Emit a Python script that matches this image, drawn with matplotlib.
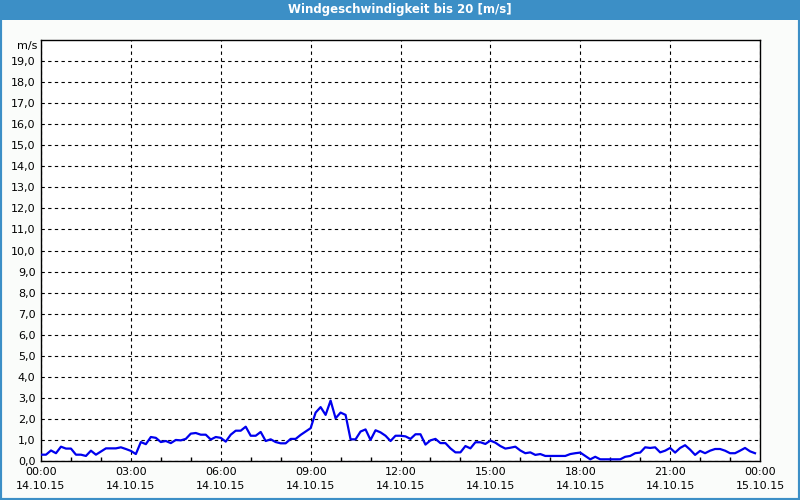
import numpy as np
import matplotlib.pyplot as plt
from matplotlib.patches import Rectangle

# Windgeschwindigkeit, 10-Minuten-Werte 14.10.15 00:00 .. 23:50
speed = [
    0.30, 0.30, 0.50, 0.37, 0.68, 0.59, 0.59, 0.30, 0.30, 0.24, 0.49, 0.30,
    0.45, 0.60, 0.60, 0.60, 0.65, 0.57, 0.48, 0.33, 0.90, 0.80, 1.14, 1.10,
    0.90, 0.95, 0.85, 1.00, 0.98, 1.05, 1.30, 1.33, 1.25, 1.25, 1.02, 1.14,
    1.10, 0.92, 1.25, 1.44, 1.44, 1.63, 1.20, 1.20, 1.38, 0.95, 1.03, 0.90,
    0.84, 0.84, 1.05, 1.05, 1.24, 1.40, 1.56, 2.30, 2.56, 2.19, 2.87, 2.03,
    2.30, 2.19, 1.03, 1.03, 1.40, 1.50, 1.00, 1.46, 1.36, 1.20, 0.95, 1.20,
    1.20, 1.17, 1.05, 1.27, 1.27, 0.78, 0.98, 1.05, 0.85, 0.85, 0.60, 0.41,
    0.41, 0.71, 0.60, 0.89, 0.89, 0.81, 0.97, 0.87, 0.71, 0.59, 0.63, 0.68,
    0.50, 0.37, 0.41, 0.29, 0.33, 0.24, 0.24, 0.24, 0.24, 0.24, 0.33, 0.37,
    0.40, 0.24, 0.08, 0.20, 0.08, 0.08, 0.08, 0.08, 0.08, 0.20, 0.24, 0.37,
    0.40, 0.65, 0.62, 0.65, 0.41, 0.49, 0.62, 0.40, 0.62, 0.75, 0.54, 0.29,
    0.48, 0.37, 0.49, 0.57, 0.57, 0.49, 0.37, 0.37, 0.49, 0.62, 0.46, 0.37,
]
hours = np.arange(len(speed)) / 6.0

x_ticks = [0, 3, 6, 9, 12, 15, 18, 21, 24]
x_labels = ["00:00\n14.10.15", "03:00\n14.10.15", "06:00\n14.10.15",
            "09:00\n14.10.15", "12:00\n14.10.15", "15:00\n14.10.15",
            "18:00\n14.10.15", "21:00\n14.10.15", "00:00\n15.10.15"]
y_ticks = list(range(0, 20))
y_labels = ["%d,0" % v for v in y_ticks]

title = "Windgeschwindigkeit bis 20 [m/s]"
blue_bar = "#3c8fc6"
bg = "#fafcfa"

fig = plt.figure(figsize=(8, 5), dpi=100, facecolor=bg)

# Rahmen und Titelleiste
fig.patches.append(Rectangle((0, 0), 1, 1, transform=fig.transFigure,
                             fill=False, edgecolor=blue_bar, linewidth=3))
fig.patches.append(Rectangle((0, 0.96), 1, 0.04, transform=fig.transFigure,
                             facecolor=blue_bar, edgecolor="none"))
fig.text(0.5, 0.98, title, color="white", fontsize=8.5, fontweight="bold",
         ha="center", va="center")

ax = fig.add_axes([41 / 800, 39 / 500, 719 / 800, 421 / 500])
ax.set_facecolor("white")
ax.plot(hours, speed, color="#0000ee", linewidth=1.6, zorder=3)

ax.set_xlim(0, 24)
ax.set_ylim(0, 20)
ax.set_xticks(x_ticks)
ax.set_xticklabels(x_labels, fontsize=8, linespacing=1.6)
ax.set_xticks(np.arange(0, 25, 1), minor=True)
ax.set_yticks(y_ticks)
ax.set_yticklabels(y_labels, fontsize=8)

ax.tick_params(axis="both", which="major", length=0, pad=4)
ax.tick_params(axis="x", which="minor", direction="in", length=3,
               color="black", width=1)
ax.grid(True, which="major", color="black", linestyle=(0, (3, 3)),
        linewidth=0.8)
for s in ax.spines.values():
    s.set_color("black")
    s.set_linewidth(1)

ax.text(-0.005, 0.985, "m/s", transform=ax.transAxes, fontsize=8,
        ha="right", va="center")

plt.savefig("out.png", dpi=100, facecolor=bg)
